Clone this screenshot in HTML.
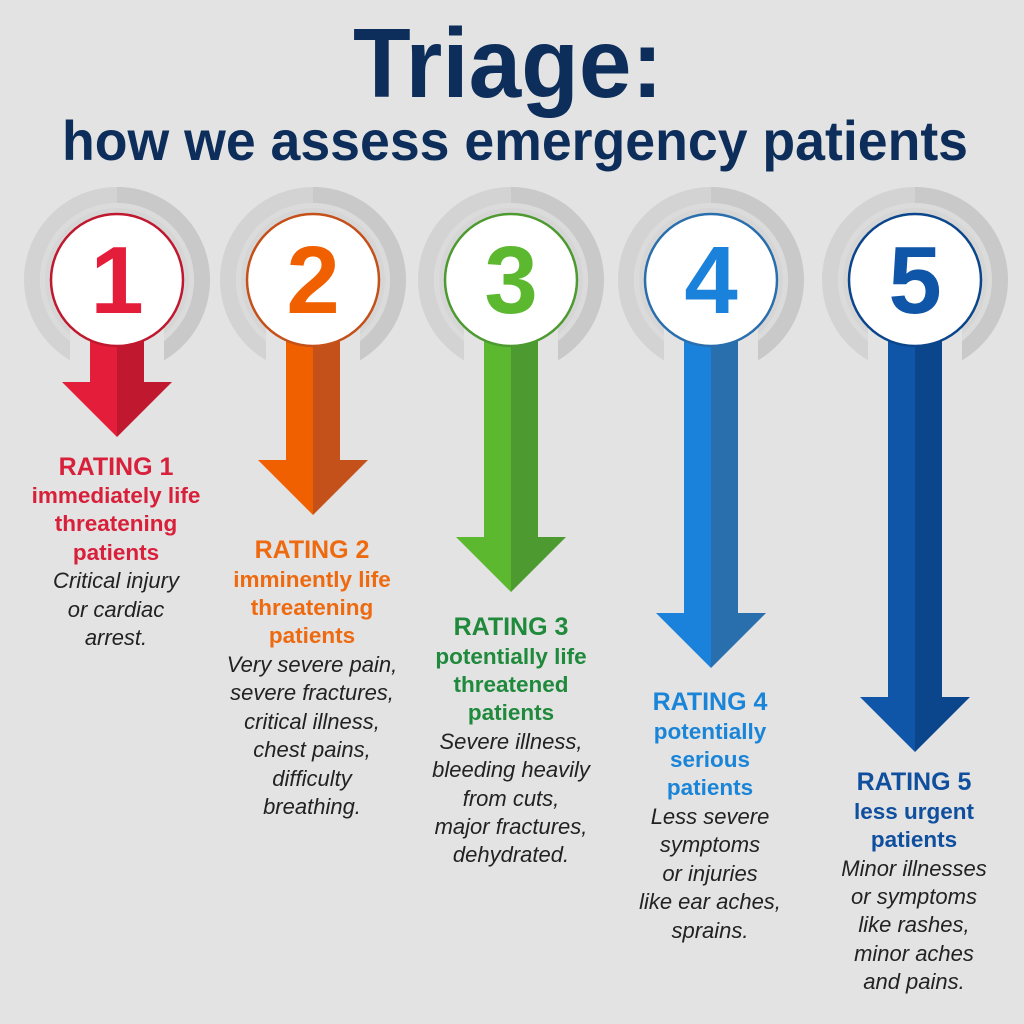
<!DOCTYPE html>
<html><head><meta charset="utf-8"><style>
html,body{margin:0;padding:0;background:#e3e3e3}
svg{display:block}
</style></head><body>
<svg width="1024" height="1024" viewBox="0 0 1024 1024" xmlns="http://www.w3.org/2000/svg" font-family="Liberation Sans, sans-serif">
<rect width="1024" height="1024" fill="#e3e3e3"/>
<text x="508" y="97" font-size="98" font-weight="bold" fill="#0d2d5a" text-anchor="middle" textLength="310" lengthAdjust="spacingAndGlyphs">Triage:</text>
<text x="515" y="160" font-size="56" font-weight="bold" fill="#0d2d5a" text-anchor="middle" textLength="906" lengthAdjust="spacingAndGlyphs">how we assess emergency patients</text>

<defs>
<g id="ring">
<circle r="85" fill="none" stroke="#d3d3d3" stroke-width="16"/>
<path d="M0,-93 A93,93 0 0 1 0,93 L0,77 A77,77 0 0 0 0,-77 Z" fill="#c9c9c9"/>
<circle r="77" fill="#dbdbdb"/>
<circle r="72" fill="#d2d2d2" opacity="0.5"/>
<rect x="-47" y="40" width="94" height="60" fill="#e3e3e3"/>
</g>
</defs>

<g transform="translate(117,280)"><use href="#ring"/>
<rect x="-27" y="0" width="27" height="103" fill="#e31d3a"/><rect x="0" y="0" width="27" height="103" fill="#c0182e"/>
<polygon points="-55,102 0,102 0,157" fill="#e31d3a"/><polygon points="0,102 55,102 0,157" fill="#c0182e"/>
<circle r="66" fill="#fff" stroke="#c0182e" stroke-width="2.5"/>
<text y="33" font-size="96" font-weight="bold" fill="#e31d3a" text-anchor="middle">1</text></g>
<g transform="translate(313,280)"><use href="#ring"/>
<rect x="-27" y="0" width="27" height="181" fill="#f06000"/><rect x="0" y="0" width="27" height="181" fill="#c4501a"/>
<polygon points="-55,180 0,180 0,235" fill="#f06000"/><polygon points="0,180 55,180 0,235" fill="#c4501a"/>
<circle r="66" fill="#fff" stroke="#c4501a" stroke-width="2.5"/>
<text y="33" font-size="96" font-weight="bold" fill="#f06000" text-anchor="middle">2</text></g>
<g transform="translate(511,280)"><use href="#ring"/>
<rect x="-27" y="0" width="27" height="258" fill="#5cb82f"/><rect x="0" y="0" width="27" height="258" fill="#4c9a30"/>
<polygon points="-55,257 0,257 0,312" fill="#5cb82f"/><polygon points="0,257 55,257 0,312" fill="#4c9a30"/>
<circle r="66" fill="#fff" stroke="#4c9a30" stroke-width="2.5"/>
<text y="33" font-size="96" font-weight="bold" fill="#5cb82f" text-anchor="middle">3</text></g>
<g transform="translate(711,280)"><use href="#ring"/>
<rect x="-27" y="0" width="27" height="334" fill="#1a82da"/><rect x="0" y="0" width="27" height="334" fill="#2a6fad"/>
<polygon points="-55,333 0,333 0,388" fill="#1a82da"/><polygon points="0,333 55,333 0,388" fill="#2a6fad"/>
<circle r="66" fill="#fff" stroke="#2a6fad" stroke-width="2.5"/>
<text y="33" font-size="96" font-weight="bold" fill="#1a82da" text-anchor="middle">4</text></g>
<g transform="translate(915,280)"><use href="#ring"/>
<rect x="-27" y="0" width="27" height="418" fill="#0f55a8"/><rect x="0" y="0" width="27" height="418" fill="#0b468c"/>
<polygon points="-55,417 0,417 0,472" fill="#0f55a8"/><polygon points="0,417 55,417 0,472" fill="#0b468c"/>
<circle r="66" fill="#fff" stroke="#0b468c" stroke-width="2.5"/>
<text y="33" font-size="96" font-weight="bold" fill="#0f55a8" text-anchor="middle">5</text></g>

<g text-anchor="middle">
<g font-weight="bold" font-size="22.5" fill="#d8203a">
<text x="116" y="475" font-size="25">RATING 1</text>
<text x="116" y="503">immediately life</text>
<text x="116" y="531">threatening</text>
<text x="116" y="560">patients</text></g>
<g font-style="italic" font-size="22" fill="#222">
<text x="116" y="588">Critical injury</text>
<text x="116" y="617">or cardiac</text>
<text x="116" y="645">arrest.</text></g>

<g font-weight="bold" font-size="22.5" fill="#ee6a10">
<text x="312" y="558" font-size="25">RATING 2</text>
<text x="312" y="587">imminently life</text>
<text x="312" y="615">threatening</text>
<text x="312" y="643">patients</text></g>
<g font-style="italic" font-size="22" fill="#222">
<text x="312" y="672">Very severe pain,</text>
<text x="312" y="700">severe fractures,</text>
<text x="312" y="729">critical illness,</text>
<text x="312" y="757">chest pains,</text>
<text x="312" y="786">difficulty</text>
<text x="312" y="814">breathing.</text></g>

<g font-weight="bold" font-size="22.5" fill="#1f8a3b">
<text x="511" y="635" font-size="25">RATING 3</text>
<text x="511" y="664">potentially life</text>
<text x="511" y="692">threatened</text>
<text x="511" y="720">patients</text></g>
<g font-style="italic" font-size="22" fill="#222">
<text x="511" y="749">Severe illness,</text>
<text x="511" y="777">bleeding heavily</text>
<text x="511" y="806">from cuts,</text>
<text x="511" y="834">major fractures,</text>
<text x="511" y="862">dehydrated.</text></g>

<g font-weight="bold" font-size="22.5" fill="#1a85d8">
<text x="710" y="710" font-size="25">RATING 4</text>
<text x="710" y="739">potentially</text>
<text x="710" y="767">serious</text>
<text x="710" y="795">patients</text></g>
<g font-style="italic" font-size="22" fill="#222">
<text x="710" y="824">Less severe</text>
<text x="710" y="852">symptoms</text>
<text x="710" y="881">or injuries</text>
<text x="710" y="909">like ear aches,</text>
<text x="710" y="938">sprains.</text></g>

<g font-weight="bold" font-size="22.5" fill="#0f4f9e">
<text x="914" y="790" font-size="25">RATING 5</text>
<text x="914" y="819">less urgent</text>
<text x="914" y="847">patients</text></g>
<g font-style="italic" font-size="22" fill="#222">
<text x="914" y="876">Minor illnesses</text>
<text x="914" y="904">or symptoms</text>
<text x="914" y="932">like rashes,</text>
<text x="914" y="961">minor aches</text>
<text x="914" y="989">and pains.</text></g>
</g>
</svg>
</body></html>
